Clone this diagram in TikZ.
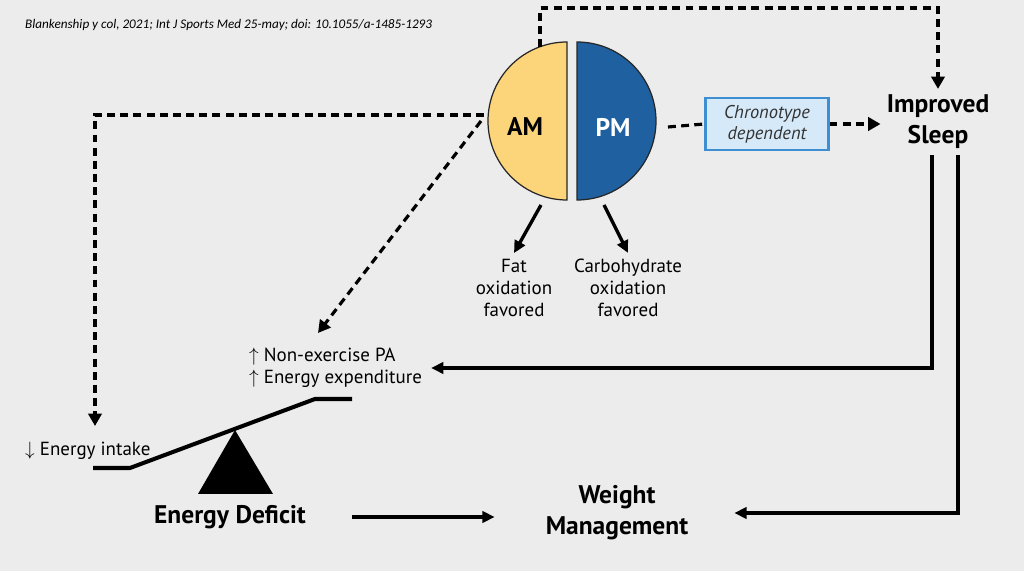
\documentclass[tikz,border=0pt]{standalone}
\usepackage{fontspec}
\setmainfont{PT Sans}
\newfontfamily\citefont{Carlito}
\usetikzlibrary{arrows.meta, positioning}
\definecolor{bggray}{RGB}{236,236,236}
\definecolor{amyellow}{RGB}{252,212,122}
\definecolor{pmblue}{RGB}{31,96,160}
\definecolor{boxfill}{RGB}{214,233,248}
\definecolor{boxline}{RGB}{62,142,210}
\tikzset{
    half/.style = {draw=black!85, line width=0.7pt},
    dashline/.style = {line width=1.8pt, dash pattern=on 4.5pt off 3pt},
    dasharrow/.style = {dashline, -{Triangle[length=7pt, width=7.5pt]}},
    solidarrow/.style = {line width=1.9pt, -{Triangle[length=7pt, width=6.5pt]}},
    caption/.style = {font=\bfseries\fontsize{14.5}{17.5}\selectfont, align=center},
    note/.style = {font=\fontsize{10.8}{12.5}\selectfont, align=center},
    tag/.style = {font=\bfseries\fontsize{14.5}{17}\selectfont},
    chronobox/.style = {draw=boxline, fill=boxfill, line width=1.2pt, minimum width=24.6mm, minimum height=10.4mm,
        font=\itshape\fontsize{10.5}{12}\selectfont, align=center, text=black!80}
}

\begin{document}
\begin{tikzpicture}[x=0.2mm, y=0.2mm]
  \fill[bggray] (0,0) rectangle (1024,571);
  \useasboundingbox (0,0) rectangle (1024,571);

  \node[anchor=west, font=\citefont\itshape\fontsize{7.5}{8}\selectfont] (cite) at (19,546)
    {Blankenship y col, 2021; Int J Sports Med 25-may; doi: 10.1055/a-1485-1293};

  \filldraw[half, fill=amyellow] (567,529) arc[start angle=90, end angle=270, radius=15.8mm] -- cycle;
  \filldraw[half, fill=pmblue] (577,529) arc[start angle=90, end angle=-90, radius=15.8mm] -- cycle;
  \node[tag] (am) at (525,444) {AM};
  \node[tag, text=white] (pm) at (613,444) {PM};

  \coordinate (amN) at (540,524);
  \coordinate (amW) at (484,456);
  \coordinate (amSW) at (481,450);
  \coordinate (amS) at (541,366);
  \coordinate (pmS) at (604,366);
  \coordinate (pmE) at (668,444);
  \coordinate (intakeTip) at (95,145);
  \coordinate (expendTip) at (318,238);

  \node[chronobox] (chrono) at (767,447) {Chronotype\\dependent};
  \node[caption] (sleep) at (938,449) {Improved\\Sleep};
  \node[note] (fat) at (514,283) {Fat\\oxidation\\favored};
  \node[note] (carb) at (628,283) {Carbohydrate\\oxidation\\favored};
  \node[note, align=left, anchor=west] (expend) at (243,203)
    {$\uparrow$ Non-exercise PA\\$\uparrow$ Energy expenditure};
  \node[note, anchor=west] (intake) at (19,120) {$\downarrow$ Energy intake};
  \node[caption] (deficit) at (230,54) {Energy Deficit};
  \node[caption] (weight) at (617,58) {Weight\\Management};

  \coordinate (pivot) at (235,141);
  \fill (pivot) -- (273,77) -- (198,77) -- cycle;
  \draw[line width=2.3pt] (93,103) -- (130,103) -- (315,172) -- (352,172);

  \draw[dasharrow] (amN) -- ++(0,39) -| (sleep.north);
  \draw[dasharrow] (amW) -| (intakeTip);
  \draw[dasharrow] (amSW) -- (expendTip);
  \draw[dashline] (pmE) -- (chrono.west);
  \draw[dasharrow] (chrono.east) -- (chrono.east -| sleep.west);
  \draw[solidarrow] (amS) -- (fat.north);
  \draw[solidarrow] (pmS) -- (carb.north);
  \draw[solidarrow] ([xshift=-1.2mm]sleep.south) |- ([xshift=0.6mm]expend.east);
  \draw[solidarrow] ([xshift=4mm]sleep.south) |- ([xshift=8mm]weight.east);
  \draw[solidarrow] ([xshift=8mm]deficit.east) -- ([xshift=-9mm]deficit.east -| weight.west);
\end{tikzpicture}
\end{document}
